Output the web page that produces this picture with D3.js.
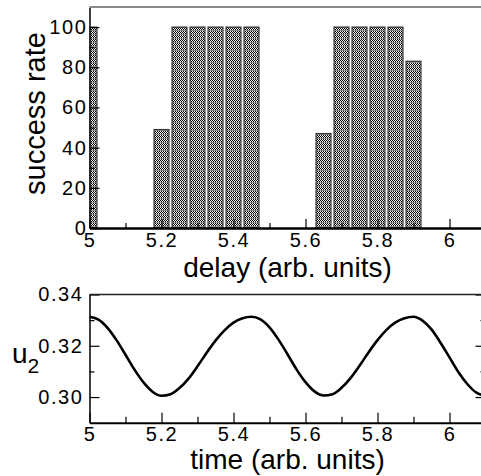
<!DOCTYPE html>
<html>
<head>
<meta charset="utf-8">
<script src="https://cdn.jsdelivr.net/npm/d3@7"></script>
<style>
  body { margin: 0; background: #fff; }
  svg { display: block; font-family: "Liberation Sans", Arial, sans-serif; }
</style>
</head>
<body>
<div id="chart"></div>
<script>
// success rate vs delay (bars)
const delays = [5.0, 5.05, 5.1, 5.15, 5.2, 5.25, 5.3, 5.35, 5.4, 5.45, 5.5, 5.55, 5.6,
                5.65, 5.7, 5.75, 5.8, 5.85, 5.9, 5.95, 6.0, 6.05, 6.1];
const successRate = [100, 0, 0, 0, 49, 100, 100, 100, 100, 100, 0, 0, 0,
                     47, 100, 100, 100, 100, 83, 0, 0, 0, 0];

// u2 vs time (curve)
const times = [5.000, 5.025, 5.050, 5.075, 5.100, 5.125, 5.150, 5.175, 5.200,
               5.225, 5.250, 5.275, 5.300, 5.325, 5.350, 5.375, 5.400, 5.425, 5.450,
               5.475, 5.500, 5.525, 5.550, 5.575, 5.600, 5.625, 5.650,
               5.675, 5.700, 5.725, 5.750, 5.775, 5.800, 5.825, 5.850, 5.875, 5.900,
               5.925, 5.950, 5.975, 6.000, 6.025, 6.050, 6.075, 6.100];
const u2 = [0.3313, 0.3302, 0.3270, 0.3222, 0.3165, 0.3107, 0.3057, 0.3021, 0.3005,
            0.3011, 0.3035, 0.3072, 0.3120, 0.3172, 0.3220, 0.3260, 0.3290, 0.3307, 0.3313,
            0.3303, 0.3272, 0.3224, 0.3167, 0.3108, 0.3058, 0.3022, 0.3006,
            0.3011, 0.3036, 0.3074, 0.3122, 0.3174, 0.3222, 0.3262, 0.3291, 0.3307, 0.3313,
            0.3298, 0.3264, 0.3212, 0.3155, 0.3097, 0.3050, 0.3017, 0.3005];

const xTicks = [5, 5.2, 5.4, 5.6, 5.8, 6];
const xMinor = [5.1, 5.3, 5.5, 5.7, 5.9];
const rateTicks = [0, 20, 40, 60, 80, 100];
const rateMinor = [10, 30, 50, 70, 90];
const uTicks = [0.30, 0.32, 0.34];
const uMinor = [0.31, 0.33];

const width = 481;
const height = 476;
const left = 89.5, right = 485.5;

const svg = d3.select('#chart')
    .append('svg')
    .attr('width', width)
    .attr('height', height);

// checker fill for bars
const defs = svg.append('defs');
const pat = defs.append('pattern')
    .attr('id', 'chk')
    .attr('width', 2).attr('height', 4)
    .attr('patternUnits', 'userSpaceOnUse');
pat.append('rect').attr('width', 2).attr('height', 4).attr('fill', '#f4f4f4');
pat.append('rect').attr('width', 1).attr('height', 1).attr('fill', '#000');
pat.append('rect').attr('x', 1).attr('y', 1).attr('width', 1).attr('height', 1).attr('fill', '#000');
pat.append('rect').attr('y', 2).attr('width', 2).attr('height', 1).attr('fill', '#8a8a8a');
pat.append('rect').attr('x', 1).attr('y', 3).attr('width', 1).attr('height', 1).attr('fill', '#000');

const x = d3.scaleLinear().domain([5, 6.1]).range([left, right]);

// ---------- top panel ----------
const yTop = d3.scaleLinear().domain([0, 110]).range([228, 7]);

defs.append('clipPath').attr('id', 'clipTop')
    .append('rect')
    .attr('x', left).attr('y', 7)
    .attr('width', right - left).attr('height', 221);

const barW = x(5.0415) - x(5);
svg.append('g')
    .attr('clip-path', 'url(#clipTop)')
    .selectAll('rect')
    .data(delays.map((d, i) => ({ d: d, v: successRate[i] })).filter(e => e.v > 0))
    .enter()
    .append('rect')
    .attr('x', e => x(e.d) - barW / 2)
    .attr('y', e => yTop(e.v))
    .attr('width', barW)
    .attr('height', e => yTop(0) - yTop(e.v))
    .attr('fill', 'url(#chk)')
    .attr('stroke', '#333')
    .attr('stroke-width', 1.2);

function styleAxis(g, w)
{
    g.select('.domain').attr('stroke', '#000').attr('stroke-width', w);
    g.selectAll('.tick line').attr('stroke', '#000').attr('stroke-width', 1.2);
    g.selectAll('.tick text').attr('fill', '#000')
        .style('font-size', '20px')
        .style('letter-spacing', '1.6px')
        .style('font-family', '"Liberation Sans", Arial, sans-serif');
}

function minorAxis(g)
{
    g.select('.domain').remove();
    g.selectAll('line').attr('stroke', '#000').attr('stroke-width', 1.2);
}

// x axis top
svg.append('g')
    .attr('transform', 'translate(0,228)')
    .call(d3.axisBottom(x).tickValues(xMinor).tickSize(-5).tickFormat('').tickSizeOuter(0))
    .call(minorAxis);
svg.append('g')
    .attr('transform', 'translate(0,228)')
    .call(d3.axisBottom(x).tickValues(xTicks).tickSize(-9).tickSizeOuter(0)
        .tickPadding(5).tickFormat(d3.format('')))
    .call(g => styleAxis(g, 2.5));

// y axis top
svg.append('g')
    .attr('transform', `translate(${left},0)`)
    .call(d3.axisLeft(yTop).tickValues(rateMinor).tickSize(-5).tickFormat('').tickSizeOuter(0))
    .call(minorAxis);
svg.append('g')
    .attr('transform', `translate(${left},0)`)
    .call(d3.axisLeft(yTop).tickValues(rateTicks).tickSize(-10).tickSizeOuter(0).tickPadding(2))
    .call(g => styleAxis(g, 1.5));

// top border
svg.append('line')
    .attr('x1', left).attr('x2', right)
    .attr('y1', yTop(110)).attr('y2', yTop(110))
    .attr('stroke', '#888').attr('stroke-width', 2);

svg.append('text')
    .attr('transform', 'translate(45,113.5) rotate(-90)')
    .attr('text-anchor', 'middle')
    .style('font-size', '29px')
    .text('success rate');

svg.append('text')
    .attr('x', (left + right) / 2)
    .attr('y', 276.5)
    .attr('text-anchor', 'middle')
    .style('font-size', '28px')
    .text('delay (arb. units)');

// ---------- bottom panel ----------
const yBot = d3.scaleLinear().domain([0.29, 0.34]).range([422.7, 294.5]);

const line = d3.line()
    .x((d, i) => x(times[i]))
    .y(d => yBot(d))
    .curve(d3.curveMonotoneX);

svg.append('path')
    .datum(u2)
    .attr('d', line)
    .attr('fill', 'none')
    .attr('stroke', '#000')
    .attr('stroke-width', 2.6);

svg.append('g')
    .attr('transform', 'translate(0,422.7)')
    .call(d3.axisBottom(x).tickValues(xMinor).tickSize(-6).tickFormat('').tickSizeOuter(0))
    .call(minorAxis);
svg.append('g')
    .attr('transform', 'translate(0,422.7)')
    .call(d3.axisBottom(x).tickValues(xTicks).tickSize(-10).tickSizeOuter(0)
        .tickPadding(4).tickFormat(d3.format('')))
    .call(g => styleAxis(g, 2));

svg.append('g')
    .attr('transform', `translate(${left},0)`)
    .call(d3.axisLeft(yBot).tickValues(uMinor).tickSize(-5).tickFormat('').tickSizeOuter(0))
    .call(minorAxis);
svg.append('g')
    .attr('transform', `translate(${left},0)`)
    .call(d3.axisLeft(yBot).tickValues(uTicks).tickSize(-10).tickSizeOuter(0)
        .tickPadding(6).tickFormat(d3.format('.2f')))
    .call(g => styleAxis(g, 1.5));

// right axis of bottom panel (mostly off-canvas)
svg.append('g')
    .attr('transform', `translate(${right},0)`)
    .call(d3.axisRight(yBot).tickValues(uMinor).tickSize(-5).tickFormat('').tickSizeOuter(0))
    .call(minorAxis);
svg.append('g')
    .attr('transform', `translate(${right},0)`)
    .call(d3.axisRight(yBot).tickValues(uTicks).tickSize(-10).tickFormat('').tickSizeOuter(0))
    .call(g => styleAxis(g, 1.5));

svg.append('line')
    .attr('x1', left).attr('x2', right)
    .attr('y1', yBot(0.34)).attr('y2', yBot(0.34))
    .attr('stroke', '#222').attr('stroke-width', 1.5);

const uLab = svg.append('text')
    .attr('x', 12)
    .attr('y', 363)
    .style('font-size', '28px');
uLab.append('tspan').text('u');
uLab.append('tspan')
    .attr('dy', 10)
    .style('font-size', '21px')
    .text('2');

svg.append('text')
    .attr('x', (left + right) / 2)
    .attr('y', 469)
    .attr('text-anchor', 'middle')
    .style('font-size', '28px')
    .text('time (arb. units)');
</script>
</body>
</html>
